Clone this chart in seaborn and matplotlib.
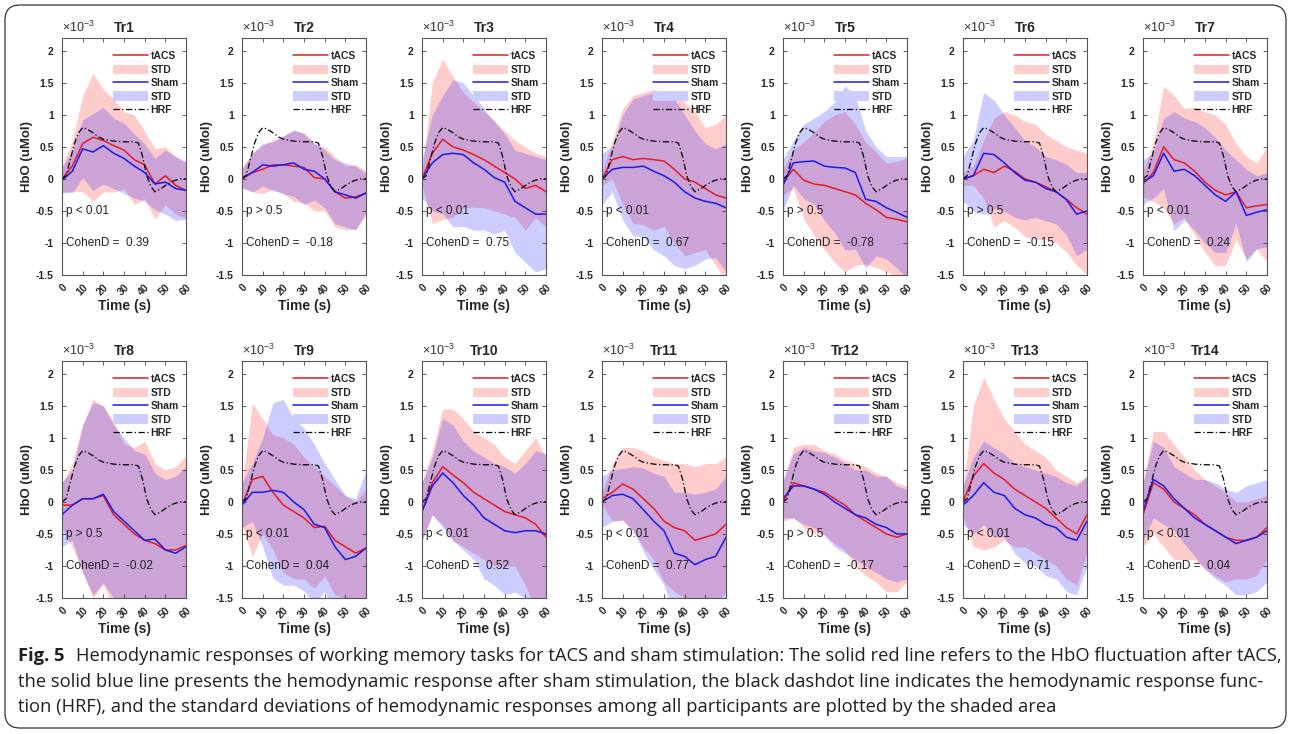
import numpy as np
import pandas as pd
import seaborn as sns
import matplotlib.pyplot as plt
from matplotlib.lines import Line2D
from matplotlib.patches import Patch, FancyBboxPatch

# time axis of every panel (s)
time_s = [0, 5, 10, 15, 20, 25, 30, 35, 40, 45, 50, 55, 60]

# canonical HRF drawn in every panel (x1e-3)
hrf_time = [0, 2, 4, 6, 8, 10, 12, 15, 18, 20, 25, 30, 35, 37, 39, 41, 43, 45, 48, 51, 54, 57, 60]
hrf_vals = [0, 0.05, 0.3, 0.55, 0.72, 0.8, 0.78, 0.72, 0.65, 0.62, 0.59, 0.58, 0.58, 0.56,
            0.35, 0.05, -0.12, -0.2, -0.15, -0.08, -0.03, 0, 0]

trial_names = ["Tr1", "Tr2", "Tr3", "Tr4", "Tr5", "Tr6", "Tr7",
               "Tr8", "Tr9", "Tr10", "Tr11", "Tr12", "Tr13", "Tr14"]
p_texts = ["p < 0.01", "p > 0.5", "p < 0.01", "p < 0.01", "p > 0.5", "p > 0.5", "p < 0.01",
           "p > 0.5", "p < 0.01", "p < 0.01", "p < 0.01", "p > 0.5", "p < 0.01", "p < 0.01"]
cohen_d = [0.39, -0.18, 0.75, 0.67, -0.78, -0.15, 0.24,
           -0.02, 0.04, 0.52, 0.77, -0.17, 0.71, 0.04]

tacs_mean = [
    [0, 0.2, 0.55, 0.65, 0.6, 0.52, 0.45, 0.3, 0.22, -0.08, 0.05, -0.1, -0.18],
    [0, 0.1, 0.15, 0.22, 0.22, 0.2, 0.18, 0.02, 0.0, -0.2, -0.3, -0.28, -0.22],
    [0, 0.4, 0.62, 0.5, 0.45, 0.38, 0.3, 0.2, 0.1, 0.0, -0.15, -0.1, -0.2],
    [0, 0.3, 0.35, 0.3, 0.32, 0.3, 0.28, 0.15, 0.0, -0.05, -0.15, -0.25, -0.3],
    [-0.05, 0.15, -0.02, -0.08, -0.1, -0.15, -0.2, -0.25, -0.38, -0.48, -0.6, -0.63, -0.67],
    [0, 0.05, 0.15, 0.1, 0.2, 0.12, 0.0, -0.05, -0.12, -0.2, -0.32, -0.45, -0.55],
    [-0.08, 0.1, 0.5, 0.3, 0.25, 0.12, -0.05, -0.18, -0.25, -0.2, -0.45, -0.42, -0.4],
    [-0.05, -0.05, 0.05, 0.05, 0.1, -0.2, -0.35, -0.5, -0.6, -0.65, -0.75, -0.75, -0.68],
    [-0.05, 0.35, 0.4, 0.15, -0.05, -0.15, -0.25, -0.4, -0.38, -0.6, -0.7, -0.8, -0.72],
    [-0.15, 0.3, 0.55, 0.42, 0.3, 0.15, 0.05, -0.05, -0.15, -0.2, -0.25, -0.35, -0.55],
    [0.05, 0.15, 0.28, 0.2, 0.05, -0.1, -0.3, -0.4, -0.45, -0.6, -0.55, -0.5, -0.35],
    [0, 0.3, 0.25, 0.2, 0.15, 0.05, -0.05, -0.2, -0.3, -0.4, -0.5, -0.55, -0.5],
    [0, 0.4, 0.6, 0.45, 0.35, 0.2, 0.1, 0.0, -0.1, -0.25, -0.4, -0.5, -0.2],
    [-0.2, 0.3, 0.2, 0.0, -0.1, -0.2, -0.35, -0.45, -0.55, -0.6, -0.6, -0.55, -0.4],
]
tacs_std = [
    [0.2, 0.4, 0.75, 1.0, 0.8, 0.73, 0.6, 0.7, 0.53, 0.55, 0.45, 0.45, 0.43],
    [0.15, 0.3, 0.38, 0.38, 0.45, 0.55, 0.55, 0.52, 0.5, 0.55, 0.5, 0.5, 0.35],
    [0.1, 1.1, 1.25, 1.1, 0.9, 0.82, 0.75, 0.7, 0.65, 0.6, 0.65, 0.5, 0.55],
    [0.1, 0.3, 0.75, 1.0, 1.03, 1.1, 1.02, 1.15, 1.2, 1.1, 0.95, 1.1, 1.3],
    [0.2, 0.3, 0.6, 0.8, 1.0, 1.15, 1.25, 1.1, 0.95, 0.9, 0.85, 0.9, 1.0],
    [0.1, 0.15, 0.45, 0.85, 0.85, 0.88, 0.9, 0.9, 0.82, 0.8, 0.82, 0.9, 0.95],
    [0.2, 0.45, 0.95, 1.0, 0.85, 1.0, 1.1, 1.18, 1.1, 0.75, 0.8, 0.67, 0.9],
    [0.35, 0.65, 1.15, 1.55, 1.4, 1.45, 1.25, 1.35, 1.55, 1.25, 1.25, 1.3, 1.4],
    [0.3, 1.2, 0.9, 0.9, 1.05, 1.05, 0.95, 0.95, 0.78, 0.85, 0.8, 0.8, 0.92],
    [0.45, 0.5, 0.9, 1.03, 1.0, 0.95, 0.95, 0.95, 0.85, 0.8, 1.05, 1.35, 1.25],
    [0.1, 0.45, 0.57, 0.65, 0.75, 0.8, 0.95, 1.0, 1.05, 1.15, 1.15, 1.1, 1.05],
    [0.3, 0.55, 0.65, 0.7, 0.65, 0.7, 0.7, 0.8, 0.85, 0.85, 0.9, 0.85, 0.75],
    [0.2, 1.1, 1.35, 1.15, 0.95, 0.9, 0.8, 0.8, 0.8, 0.75, 0.8, 0.8, 0.6],
    [0.5, 0.8, 0.9, 0.9, 0.8, 0.7, 0.7, 0.7, 0.7, 0.6, 0.6, 0.6, 0.5],
]
sham_mean = [
    [-0.02, 0.12, 0.47, 0.42, 0.52, 0.4, 0.32, 0.2, 0.1, -0.08, -0.05, -0.15, -0.18],
    [0.02, 0.1, 0.22, 0.2, 0.22, 0.25, 0.15, 0.12, 0.0, -0.2, -0.25, -0.3, -0.22],
    [0, 0.25, 0.38, 0.4, 0.38, 0.25, 0.15, 0.02, -0.05, -0.35, -0.45, -0.55, -0.55],
    [0, 0.15, 0.18, 0.18, 0.2, 0.12, 0.05, -0.05, -0.2, -0.3, -0.35, -0.38, -0.45],
    [-0.1, 0.25, 0.27, 0.28, 0.2, 0.18, 0.17, 0.1, -0.32, -0.35, -0.45, -0.52, -0.6],
    [0, 0.05, 0.4, 0.38, 0.25, 0.1, -0.02, -0.05, -0.15, -0.2, -0.32, -0.55, -0.5],
    [-0.05, 0.05, 0.4, 0.12, 0.15, 0.05, -0.1, -0.25, -0.35, -0.2, -0.57, -0.52, -0.48],
    [-0.2, -0.05, 0.05, 0.05, 0.12, -0.15, -0.3, -0.45, -0.6, -0.58, -0.75, -0.8, -0.7],
    [-0.05, 0.15, 0.15, 0.18, 0.15, 0.0, -0.12, -0.35, -0.4, -0.7, -0.9, -0.85, -0.72],
    [-0.15, 0.25, 0.45, 0.3, 0.1, -0.05, -0.25, -0.35, -0.45, -0.48, -0.45, -0.45, -0.5],
    [0.0, 0.1, 0.12, 0.05, -0.12, -0.3, -0.45, -0.8, -0.85, -0.98, -0.9, -0.85, -0.55],
    [0.05, 0.25, 0.25, 0.2, 0.12, 0.0, -0.1, -0.2, -0.25, -0.35, -0.4, -0.5, -0.5],
    [-0.05, 0.1, 0.3, 0.15, 0.1, -0.1, -0.2, -0.25, -0.35, -0.4, -0.55, -0.6, -0.3],
    [-0.15, 0.35, 0.25, 0.05, -0.1, -0.25, -0.35, -0.45, -0.55, -0.65, -0.6, -0.55, -0.45],
]
sham_std = [
    [0.2, 0.33, 0.45, 0.6, 0.6, 0.55, 0.55, 0.5, 0.45, 0.4, 0.5, 0.5, 0.45],
    [0.15, 0.3, 0.33, 0.38, 0.45, 0.52, 0.55, 0.45, 0.45, 0.5, 0.5, 0.5, 0.3],
    [0.3, 0.75, 0.92, 1.15, 1.12, 1.05, 0.95, 0.88, 0.75, 0.8, 0.85, 0.9, 0.85],
    [0.4, 0.35, 0.82, 1.07, 1.1, 1.23, 1.25, 1.3, 1.2, 1.05, 0.9, 0.85, 1.0],
    [0.4, 0.35, 0.58, 0.67, 0.85, 1.02, 1.28, 1.2, 1.07, 0.85, 0.8, 0.87, 0.95],
    [0.35, 0.55, 0.95, 0.85, 0.75, 0.7, 0.62, 0.55, 0.5, 0.5, 0.55, 0.65, 0.6],
    [0.35, 0.35, 0.55, 0.93, 0.8, 0.85, 0.9, 0.9, 0.8, 0.5, 0.72, 0.57, 0.58],
    [0.5, 0.55, 1.15, 1.5, 1.38, 1.35, 1.3, 1.25, 1.35, 1.03, 1.1, 1.2, 1.25],
    [0.35, 0.45, 0.85, 1.37, 1.45, 1.3, 1.27, 1.25, 1.0, 1.05, 1.0, 0.9, 1.22],
    [0.45, 0.45, 0.85, 0.9, 0.85, 0.85, 0.95, 0.95, 1.0, 0.93, 1.05, 1.25, 1.25],
    [0.4, 0.4, 0.4, 0.5, 0.65, 0.75, 0.85, 0.95, 1.0, 1.1, 1.05, 1.05, 0.95],
    [0.3, 0.5, 0.6, 0.6, 0.65, 0.7, 0.7, 0.7, 0.75, 0.75, 0.8, 0.75, 0.7],
    [0.3, 0.6, 0.65, 0.7, 0.65, 0.7, 0.75, 0.75, 0.8, 0.8, 0.85, 0.85, 0.7],
    [0.45, 0.6, 0.6, 0.5, 0.55, 0.6, 0.7, 0.75, 0.75, 0.8, 0.85, 0.85, 0.8],
]

ytick_vals = [-1.5, -1, -0.5, 0, 0.5, 1, 1.5, 2]
ytick_labels = ["-1.5", "-1", "-0.5", "0", "0.5", "1", "1.5", "2"]
xtick_vals = [0, 10, 20, 30, 40, 50, 60]

caption_lines = [
    "Hemodynamic responses of working memory tasks for tACS and sham stimulation: The solid red line refers to the HbO fluctuation after tACS,",
    "the solid blue line presents the hemodynamic response after sham stimulation, the black dashdot line indicates the hemodynamic response func-",
    "tion (HRF), and the standard deviations of hemodynamic responses among all participants are plotted by the shaded area",
]

sns.set_style("ticks")
plt.rcParams["font.family"] = ["Liberation Sans", "DejaVu Sans"]
plt.rcParams["mathtext.fontset"] = "custom"
plt.rcParams["mathtext.rm"] = "Liberation Sans"

red = (0.9, 0.1, 0.15)
blue = (0.1, 0.1, 0.9)
W, H = 1290, 734
fig = plt.figure(figsize=(W / 100, H / 100), dpi=100)
fig.patch.set_facecolor("white")

col_left = [62, 242, 422, 602, 783, 963, 1143]
row_top = [38, 361]
ax_w, ax_h = 124, 237

for i, name in enumerate(trial_names):
    r, c = divmod(i, 7)
    ax = fig.add_axes([col_left[c] / W, 1 - (row_top[r] + ax_h) / H, ax_w / W, ax_h / H])
    tm, ts = np.array(tacs_mean[i]), np.array(tacs_std[i])
    sm, ss = np.array(sham_mean[i]), np.array(sham_std[i])

    ax.fill_between(time_s, tm - ts, tm + ts, color=(1, 0, 0), alpha=0.2, lw=0)
    ax.fill_between(time_s, sm - ss, sm + ss, color=(0, 0, 1), alpha=0.2, lw=0)

    df = pd.DataFrame({
        "Time": time_s + time_s,
        "HbO": list(tm) + list(sm),
        "Group": ["tACS"] * len(time_s) + ["Sham"] * len(time_s),
    })
    sns.lineplot(data=df, x="Time", y="HbO", hue="Group",
                 palette={"tACS": red, "Sham": blue}, lw=1.1, legend=False, ax=ax)
    sns.lineplot(x=hrf_time, y=hrf_vals, color="black", lw=0.9,
                 linestyle=(0, (5, 2, 1, 2)), ax=ax)

    ax.set_xlim(0, 60)
    ax.set_ylim(-1.5, 2.2)
    ax.set_xticks(xtick_vals)
    ax.set_xticklabels([str(v) for v in xtick_vals], rotation=45, ha="right",
                       rotation_mode="anchor", fontsize=7.5, fontweight="bold")
    ax.set_yticks(ytick_vals)
    ax.set_yticklabels(ytick_labels, fontsize=7.5, fontweight="bold")
    ax.tick_params(direction="in", top=True, right=True, length=3, width=0.6, color="#444444")
    ax.tick_params(axis="y", pad=6)
    ax.tick_params(axis="x", pad=5)
    for sp in ax.spines.values():
        sp.set_color("#555555")
        sp.set_linewidth(0.8)

    ax.set_title(name, fontsize=10, fontweight="bold", pad=4)
    ax.set_xlabel("Time (s)", fontsize=10, fontweight="bold", labelpad=1)
    ax.set_ylabel("HbO (uMol)", fontsize=9.5, fontweight="bold", labelpad=2)
    ax.text(0.0, 1.012, r"$\times10^{-3}$", transform=ax.transAxes, fontsize=9,
            ha="left", va="bottom", color="#333333")

    ax.text(2, -0.5, p_texts[i], fontsize=8.5, va="center", color="#222222")
    ax.text(1.7, -1.0, f"CohenD =  {cohen_d[i]:.2f}", fontsize=8.5, va="center", color="#222222")

    handles = [
        Line2D([], [], color=red, lw=1.1),
        Patch(facecolor=(1, 0.8, 0.8), edgecolor="none"),
        Line2D([], [], color=blue, lw=1.1),
        Patch(facecolor=(0.8, 0.8, 1), edgecolor="none"),
        Line2D([], [], color="black", lw=0.9, linestyle=(0, (5, 2, 1, 2))),
    ]
    ax.legend(handles, ["tACS", "STD", "Sham", "STD", "HRF"], loc="upper right",
              frameon=False, prop={"weight": "bold", "size": 7.5}, handlelength=3.4,
              handleheight=1.0, handletextpad=0.2, labelspacing=0.3,
              borderaxespad=0.3, bbox_to_anchor=(1.0, 0.975))

# rounded frame around figure + caption
frame = FancyBboxPatch((0.05, 0.06), 12.81, 7.23, boxstyle="round,pad=0,rounding_size=0.15",
                       transform=fig.dpi_scale_trans, fill=False, ec="#333333", lw=0.9)
fig.add_artist(frame)

cap_family = ["Open Sans", "DejaVu Sans"]
cap_y = [656, 682, 707]
fig.canvas.draw()
renderer = fig.canvas.get_renderer()

# fit the caption size so that the first (justified) line ends near x=1279
probe_a = fig.text(0, 0.5, "Fig. 5", fontsize=12, fontweight="bold", family=cap_family)
probe_b = fig.text(0, 0.5, caption_lines[0], fontsize=12, family=cap_family)
w_line1 = probe_a.get_window_extent(renderer).width + 12 + probe_b.get_window_extent(renderer).width
cap_size = 12 * (1279 - 18 - 12) / (w_line1 - 12)
probe_a.remove()
probe_b.remove()

fig_lbl = fig.text(18 / W, 1 - cap_y[0] / H, "Fig. 5", fontsize=cap_size, fontweight="bold",
                   family=cap_family, va="center", color="#231f20")
x_after = fig_lbl.get_window_extent(renderer).x1 + 12
fig.text(x_after / W, 1 - cap_y[0] / H, caption_lines[0], fontsize=cap_size,
         family=cap_family, va="center", color="#231f20")
for line, y in zip(caption_lines[1:], cap_y[1:]):
    fig.text(18 / W, 1 - y / H, line, fontsize=cap_size, family=cap_family,
             va="center", color="#231f20")

fig.savefig("out.png", dpi=100)
